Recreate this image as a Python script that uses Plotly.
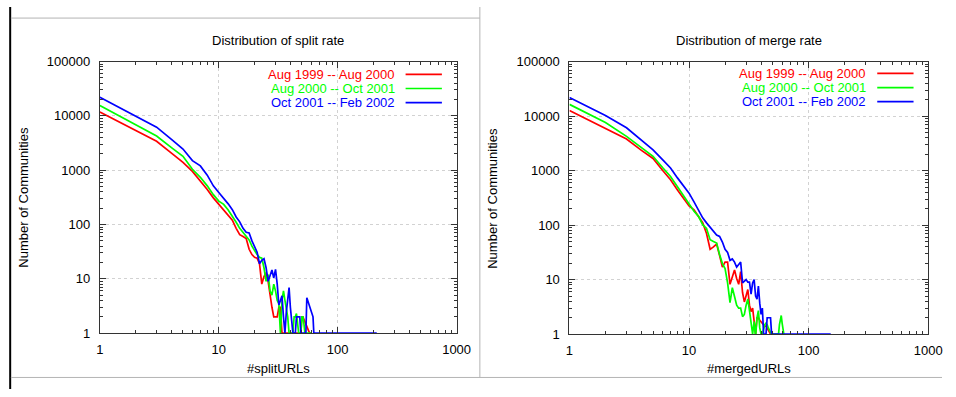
import plotly.graph_objects as go

# ---------------- data ----------------
series_names = ["Aug 1999 -- Aug 2000", "Aug 2000 -- Oct 2001", "Oct 2001 -- Feb 2002"]
series_colors = ["#ff0000", "#00ff00", "#0000ff"]

# Left panel: distribution of split rate
split_red_x = list(range(1, 61))
split_red_y = [11800, 5300, 3400, 2070, 1390, 950, 640, 440, 310, 235,
               190, 150, 120, 85, 65, 60, 55, 35, 28, 25,
               24, 19, 8, 11, 13, 9, 4.5, 3, 2, 2,
               2, 3, 3, 1, 1, 1, 1, 1, 1, 1,
               1, 1, 1, 1, 1, 1, 1, 1, 1, 2,
               2, 1.8, 1.6, 1.5, 1.4, 1.2, 1.1, 1, 1, 1]
split_green_x = list(range(1, 61))
split_green_y = [15500, 6800, 4250, 2600, 1800, 1040, 740, 515, 355, 270,
                 235, 185, 145, 110, 85, 72, 62, 52, 40, 33,
                 28, 25, 24, 16, 9, 12, 6, 5, 8, 6,
                 4, 3.5, 1, 4, 6, 4, 3, 2, 1, 1,
                 1, 1, 2, 2, 2.3, 1.5, 1, 1, 1, 2,
                 2, 1.5, 1, 1, 1, 1, 1, 1, 1, 1]
split_blue_x = list(range(1, 64)) + [213]
split_blue_y = [22000, 9900, 6200, 3680, 2450, 1500, 1200, 810, 515, 390,
                310, 240, 188, 138, 112, 85, 72, 70, 50, 38,
                31, 19, 22, 23.5, 16, 9, 12, 14.6, 10.4, 15,
                8, 3.3, 4, 4.9, 2, 1, 2.5, 4.9, 6.9, 3,
                1.4, 1, 1, 1, 2, 2, 2, 2, 1, 1,
                1, 1, 1, 1, 4.5, 4, 3.5, 3, 2.7, 2.4,
                2.2, 2, 1, 1]

# Right panel: distribution of merge rate
merge_red_x = list(range(1, 49))
merge_red_y = [12700, 5950, 3800, 2350, 1670, 1015, 680, 440, 310, 225,
               190, 140, 111, 70, 36, 40, 45, 27.6, 17, 21,
               21, 8.2, 11.4, 15, 10.5, 8.2, 14, 5.8, 3.9, 5.1,
               6.6, 3.4, 2.6, 3, 1.5, 1, 2, 2, 1.8, 1.7,
               1.6, 1.5, 1.4, 1.4, 1.3, 1.2, 1.1, 1]
merge_green_x = list(range(1, 63))
merge_green_y = [16400, 7600, 4250, 2610, 1830, 1140, 780, 505, 344, 235,
                 180, 145, 102, 87, 54, 50, 47, 29, 19.7, 16,
                 8.7, 3.8, 7.1, 4.9, 3.4, 3, 3, 2.1, 2.3, 3.4,
                 4.4, 2.7, 1.5, 1, 1.7, 0.88, 2, 2.7, 1.3, 1,
                 1, 1.3, 1.5, 1.6, 1.5, 1.3, 1.2, 1.1, 1, 1,
                 1, 1, 1, 1, 1, 1, 1.5, 2, 2.2, 1.6,
                 1.2, 1]
merge_blue_x = list(range(1, 50)) + [153]
merge_blue_y = [21900, 10200, 6100, 3550, 2400, 1590, 1120, 735, 525, 385,
                266, 189, 136, 110, 93, 76, 66, 62, 49, 36,
                31.6, 22.6, 24, 21, 17, 19, 21, 8.7, 9.5, 10,
                9, 9, 5.4, 8.7, 10, 5, 4.4, 7.6, 3.7, 2.3,
                3, 1, 1, 1, 2, 2, 2, 2, 1, 1]

panel_titles = ["Distribution of split rate", "Distribution of merge rate"]
x_titles = ["#splitURLs", "#mergedURLs"]
y_title = "Number of Communities"
x_tickvals = [1, 10, 100, 1000]
x_ticktext = ["1", "10", "100", "1000"]
y_tickvals = [1, 10, 100, 1000, 10000, 100000]
y_ticktext = ["1", "10", "100", "1000", "10000", "100000"]

# ---------------- layout helpers ----------------
W, H = 956, 397
FONT = "Liberation Sans, Arial, Helvetica, sans-serif"
AXC = "#333333"


def px(x):
    return x / W


def py(y):
    return 1 - y / H


minor_x = [m * 10 ** e for e in range(0, 3) for m in range(2, 10)]
minor_y = [m * 10 ** e for e in range(0, 5) for m in range(2, 10)]

fig = go.Figure()

panels = [
    ("x", "y", [(split_red_x, split_red_y), (split_green_x, split_green_y), (split_blue_x, split_blue_y)]),
    ("x2", "y2", [(merge_red_x, merge_red_y), (merge_green_x, merge_green_y), (merge_blue_x, merge_blue_y)]),
]
for xa, ya, data in panels:
    for (xs, ys), name, col in zip(data, series_names, series_colors):
        fig.add_trace(go.Scatter(x=xs, y=ys, mode="lines", name=name, xaxis=xa, yaxis=ya,
                                 line=dict(color=col, width=1.7), showlegend=False,
                                 hoverinfo="skip"))


def xaxis_cfg(x0, x1, anchor):
    return dict(type="log", range=[0, 3], domain=[px(x0), px(x1)], anchor=anchor,
                tickvals=x_tickvals, ticktext=x_ticktext, ticks="inside", ticklen=6,
                tickcolor=AXC, showline=True, linecolor=AXC, linewidth=1, mirror="allticks",
                showgrid=True, gridcolor="#d2d2d2", griddash="dot", gridwidth=1, zeroline=False,
                minor=dict(tickvals=minor_x, ticks="inside", ticklen=3, tickcolor=AXC, showgrid=False),
                tickfont=dict(size=13, family=FONT, color="black"), ticklabelstandoff=4,
                fixedrange=True)


def yaxis_cfg(y0, y1, anchor):
    return dict(type="log", range=[0, 5], domain=[py(y1), py(y0)], anchor=anchor,
                tickvals=y_tickvals, ticktext=y_ticktext, ticks="inside", ticklen=6,
                tickcolor=AXC, showline=True, linecolor=AXC, linewidth=1, mirror="allticks",
                showgrid=True, gridcolor="#d2d2d2", griddash="dot", gridwidth=1, zeroline=False,
                minor=dict(tickvals=minor_y, ticks="inside", ticklen=3, tickcolor=AXC, showgrid=False),
                tickfont=dict(size=13, family=FONT, color="black"), ticklabelstandoff=6,
                fixedrange=True)


annotations = []
shapes = []
panel_geo = [(97.7, 461.3, 56.7, 339.0), (576.3, 942.0, 56.7, 340.0)]
for i, (x0, x1, y0, y1) in enumerate(panel_geo):
    cx = (x0 + x1) / 2
    annotations.append(dict(text=panel_titles[i], x=px(cx), y=py(35), xref="paper", yref="paper",
                            showarrow=False, font=dict(size=13, family=FONT, color="black"),
                            xanchor="center", yanchor="middle"))
    annotations.append(dict(text=x_titles[i], x=px(cx), y=py(376), xref="paper", yref="paper",
                            showarrow=False, font=dict(size=13, family=FONT, color="black"),
                            xanchor="center", yanchor="middle"))
    annotations.append(dict(text=y_title, x=px(x0 - 78), y=py((y0 + y1) / 2), xref="paper", yref="paper",
                            showarrow=False, textangle=-90, font=dict(size=13, family=FONT, color="black"),
                            xanchor="center", yanchor="middle"))
    # legend (text left of sample, as in the original)
    for k, (name, col) in enumerate(zip(series_names, series_colors)):
        ly = 70 + 14.7 * k - (1 if i == 1 else 0)
        annotations.append(dict(text=name, x=px(x1 - 61), y=py(ly), xref="paper", yref="paper",
                                showarrow=False, font=dict(size=13, family=FONT, color=col),
                                xanchor="right", yanchor="middle"))
        shapes.append(dict(type="line", xref="paper", yref="paper", x0=px(x1 - 52), x1=px(x1 - 15),
                           y0=py(ly), y1=py(ly), line=dict(color=col, width=1.7)))

# page frame decorations
shapes += [
    dict(type="line", xref="paper", yref="paper", x0=px(6.3), x1=px(6.3), y0=0, y1=1,
         line=dict(color="black", width=2)),
    dict(type="line", xref="paper", yref="paper", x0=px(7), x1=px(485), y0=py(11.5), y1=py(11.5),
         line=dict(color="#b4b4b4", width=1)),
    dict(type="line", xref="paper", yref="paper", x0=px(485), x1=px(485), y0=py(0), y1=py(385),
         line=dict(color="#b4b4b4", width=1)),
    dict(type="line", xref="paper", yref="paper", x0=px(7), x1=px(956), y0=py(385), y1=py(385),
         line=dict(color="#b4b4b4", width=1)),
]

fig.update_layout(
    width=W, height=H, autosize=False,
    margin=dict(l=0, r=0, t=0, b=0),
    paper_bgcolor="white", plot_bgcolor="white",
    showlegend=False, hovermode=False, dragmode=False,
    xaxis=xaxis_cfg(97.7, 461.3, "y"),
    yaxis=yaxis_cfg(56.7, 339.0, "x"),
    xaxis2=xaxis_cfg(576.3, 942.0, "y2"),
    yaxis2=yaxis_cfg(56.7, 340.0, "x2"),
    annotations=annotations,
    shapes=shapes,
)

fig.write_html("out.html",
               config={"displayModeBar": False, "staticPlot": True},
               post_script="document.body.style.margin='0';document.body.style.overflow='hidden';")
